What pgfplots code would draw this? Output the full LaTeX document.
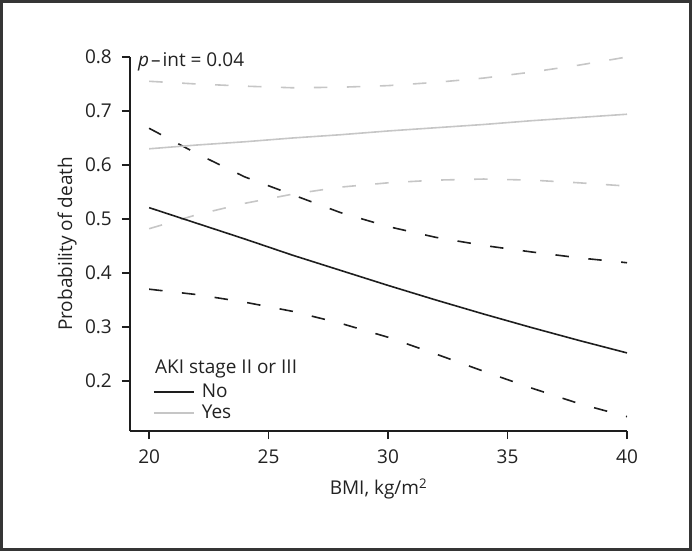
\documentclass[border=0pt]{standalone}
\usepackage{fontspec}
\setmainfont{Open Sans}
\usepackage{pgfplots}
\pgfplotsset{compat=1.18}
\definecolor{lgray}{HTML}{C6C6C6}
\definecolor{dk}{HTML}{1E1E1E}
\definecolor{txt}{HTML}{222222}
\pgfplotstableread{
x   nofit  nolo   nohi   yesfit yeslo  yeshi
20  0.521  0.370  0.668  0.630  0.482  0.755
22  0.492  0.360  0.621  0.637  0.508  0.750
24  0.463  0.346  0.578  0.643  0.529  0.746
26  0.433  0.329  0.545  0.650  0.546  0.743
28  0.405  0.307  0.512  0.656  0.559  0.744
30  0.377  0.281  0.486  0.663  0.567  0.747
32  0.350  0.250  0.466  0.669  0.572  0.753
34  0.324  0.218  0.451  0.675  0.574  0.761
36  0.299  0.187  0.439  0.682  0.572  0.772
38  0.275  0.158  0.428  0.688  0.567  0.785
40  0.252  0.134  0.419  0.694  0.561  0.800
}\datatable
\begin{document}
\fontsize{19}{23}\selectfont
\begin{tikzpicture}
\useasboundingbox (0pt,0pt) rectangle (692pt,551pt);
\draw[line width=3pt, color=dk!90] (1.5pt,1.5pt) rectangle (690.5pt,549.5pt);
\begin{axis}[
  at={(130pt,120pt)}, anchor=south west,
  scale only axis, width=497pt, height=374pt,
  xmin=19.2, xmax=40, ymin=0.1074, ymax=0.8,
  axis x line*=bottom, axis y line*=left,
  axis line style={line width=1.6pt, color=dk},
  every tick/.style={line width=1.6pt, color=dk},
  tick align=outside, major tick length=8pt,
  xtick={20,25,30,35,40}, xticklabels={20,25,30,35,40},
  ytick={0.2,0.3,0.4,0.5,0.6,0.7,0.8},
  yticklabels={0.2,0.3,0.4,0.5,0.6,0.7,0.8},
  ticklabel style={font=\fontsize{19}{23}\selectfont, text=txt},
  xticklabel style={inner sep=0pt, anchor=north, yshift=-11pt},
  yticklabel style={inner sep=0pt, anchor=east, xshift=-10pt},
  xlabel={BMI, kg/m\textsuperscript{2}},
  ylabel={Probability of death},
  label style={font=\fontsize{19}{23}\selectfont, text=txt},
  xlabel style={at={(axis description cs:0.5,-0.171)}, anchor=base, inner sep=0pt},
  ylabel style={at={(axis description cs:-0.1167,0.5)}, anchor=base, inner sep=0pt},
  clip=false,
  legend style={at={(rel axis cs:0.0463,0.128)}, anchor=north west, draw=none, fill=none,
    inner sep=0pt, outer sep=0pt, nodes={inner sep=1pt, text=txt, font=\fontsize{19}{23}\selectfont},
    row sep=2pt, column sep=6pt},
  legend cell align=left,
  legend image code/.code={\draw[#1] (0pt,0pt) -- (40pt,0pt);},
]
\addplot[forget plot, color=dk, line width=1.6pt, dash pattern=on 13.5pt off 19.5pt] table[x=x,y=nohi]{\datatable};
\addplot[forget plot, color=dk, line width=1.6pt, dash pattern=on 13.5pt off 19.5pt] table[x=x,y=nolo]{\datatable};
\addplot[forget plot, color=lgray, line width=1.6pt, dash pattern=on 13.5pt off 19.5pt] table[x=x,y=yeshi]{\datatable};
\addplot[forget plot, color=lgray, line width=1.6pt, dash pattern=on 13.5pt off 19.5pt] table[x=x,y=yeslo]{\datatable};
\addplot[forget plot, color=lgray, line width=1.6pt] table[x=x,y=yesfit]{\datatable};
\addplot[forget plot, color=dk, line width=1.6pt] table[x=x,y=nofit]{\datatable};
\addlegendimage{color=dk, line width=1.8pt}
\addlegendentry{No}
\addlegendimage{color=lgray, line width=1.8pt}
\addlegendentry{Yes}
\node[anchor=base west, inner sep=0pt, text=txt] at (rel axis cs:0.0503,0.155) {AKI stage II or III};
\node[anchor=base west, inner sep=0pt, text=txt] at (axis cs:19.53,0.7815) {\textit{p}\kern2pt--\kern2pt int = 0.04};
\end{axis}
\end{tikzpicture}
\end{document}
